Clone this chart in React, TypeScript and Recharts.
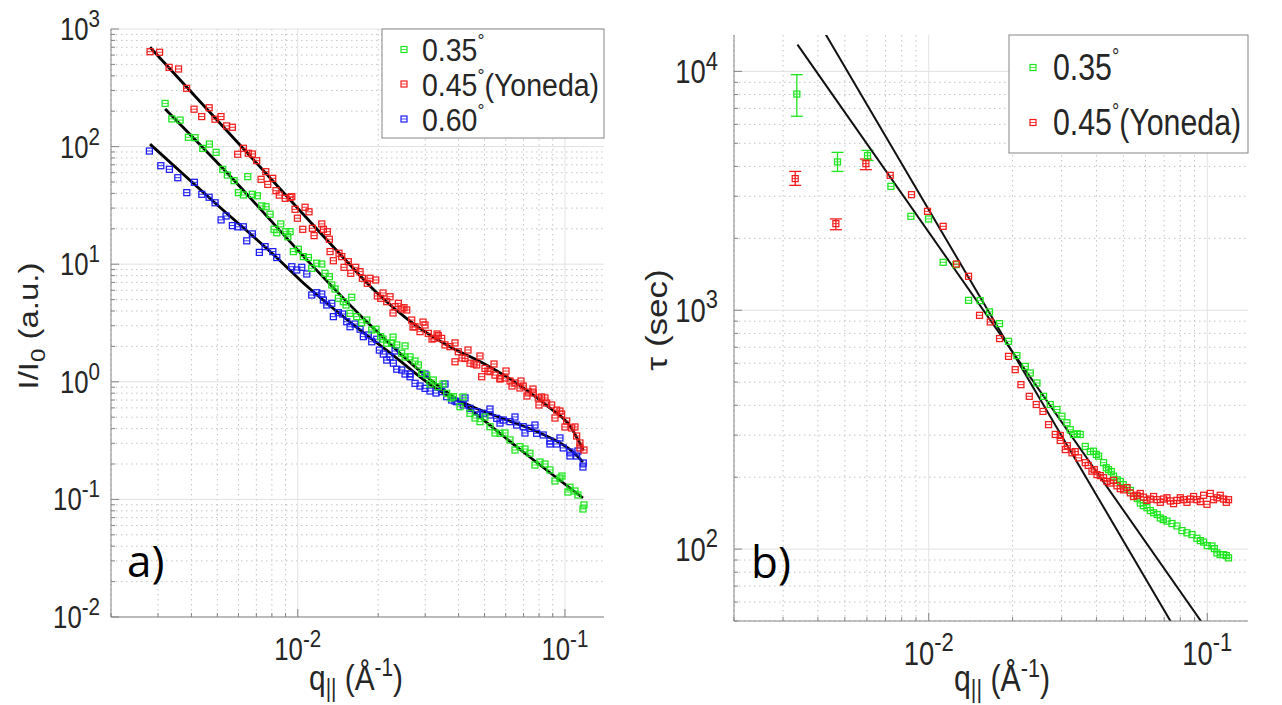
import React from "react";
import { ComposedChart, Scatter, Line, XAxis, YAxis, CartesianGrid, ErrorBar } from "recharts";

const FONT = '"Liberation Sans", Arial, Helvetica, sans-serif';
const SQX = 0.83;
const AXIS_COLOR = "#858585";
const TEXT = "#262626";
const GREEN = "#1ee61e";
const RED = "#f21c1c";
const BLUE = "#1c1cf2";

// ---------- axis ticks ----------
const xTicks = [0.002, 0.003, 0.004, 0.005, 0.006, 0.007, 0.008, 0.009, 0.01, 0.02, 0.03, 0.04, 0.05, 0.06, 0.07, 0.08, 0.09, 0.1];
const xMajor = [0.01, 0.1];
const yTicksA = [0.01, 0.02, 0.03, 0.04, 0.05, 0.06, 0.07, 0.08, 0.09, 0.1, 0.2, 0.3, 0.4, 0.5, 0.6, 0.7, 0.8, 0.9, 1, 2, 3, 4, 5, 6, 7, 8, 9, 10, 20, 30, 40, 50, 60, 70, 80, 90, 100, 200, 300, 400, 500, 600, 700, 800, 900, 1000];
const yMajorA = [0.01, 0.1, 1, 10, 100, 1000];
const yTicksB = [50, 60, 70, 80, 90, 100, 200, 300, 400, 500, 600, 700, 800, 900, 1000, 2000, 3000, 4000, 5000, 6000, 7000, 8000, 9000, 10000];
const yMajorB = [100, 1000, 10000];

// ---------- panel a: I/I0 vs q ----------
const qRedA = [0.0028, 0.00304, 0.0033, 0.00358, 0.00384, 0.00409, 0.00437, 0.00466, 0.0049, 0.00516, 0.00542, 0.00569, 0.00596, 0.00626, 0.00653, 0.00676, 0.00702, 0.00729, 0.00759, 0.00772, 0.00806, 0.00829, 0.00853, 0.00897, 0.00936, 0.0095, 0.00977, 0.00997, 0.01044, 0.01065, 0.01102, 0.01134, 0.01151, 0.0123, 0.01247, 0.0129, 0.01313, 0.01321, 0.01359, 0.01427, 0.01461, 0.0149, 0.01546, 0.01579, 0.01648, 0.01711, 0.01745, 0.01821, 0.01864, 0.01958, 0.01985, 0.02044, 0.02153, 0.02215, 0.02312, 0.02379, 0.02498, 0.02557, 0.0267, 0.02747, 0.02868, 0.02994, 0.03081, 0.03236, 0.03357, 0.03457, 0.03557, 0.03713, 0.03877, 0.03989, 0.04227, 0.04413, 0.04675, 0.0488, 0.0502, 0.05241, 0.05472, 0.05713, 0.05964, 0.06227, 0.06501, 0.06787, 0.06982, 0.07289, 0.0761, 0.07945, 0.08181, 0.08541, 0.08917, 0.0931, 0.09719, 0.1015, 0.106, 0.1106, 0.1138, 0.1178];
const iRedA = [641, 634, 472, 457, 313, 208, 180, 214, 171, 180, 150, 146, 86.1, 96.8, 87.8, 86.5, 75.9, 52.7, 61.2, 47.7, 53.7, 42.2, 38.7, 36.3, 37.0, 37.5, 29.3, 24.6, 19.8, 30.5, 27.9, 20.2, 17.5, 22.0, 19.8, 18.9, 16.3, 12.8, 10.7, 12.4, 11.6, 9.41, 10.5, 8.37, 9.41, 8.64, 7.59, 6.88, 7.59, 7.34, 5.37, 5.13, 4.8, 5.29, 4.35, 4.65, 4.27, 4.08, 3.35, 2.94, 2.67, 3.04, 2.58, 2.34, 2.47, 2.34, 2.06, 1.99, 1.48, 1.8, 1.58, 1.44, 1.39, 1.105, 1.3, 1.22, 1.14, 1.07, 1.077, 1.016, 0.977, 0.886, 0.921, 0.819, 0.803, 0.729, 0.743, 0.66, 0.635, 0.575, 0.532, 0.464, 0.405, 0.346, 0.302, 0.263];
// second layer of the dense red band
const qRedA2 = [0.02085, 0.02273, 0.02456, 0.027, 0.02944, 0.03181, 0.03321, 0.03877, 0.04118, 0.04336, 0.04566, 0.04808, 0.05152, 0.05425, 0.05713, 0.06017, 0.06335, 0.06847, 0.07208, 0.07592, 0.07993, 0.08418, 0.09175, 0.09578, 0.1, 0.109, 0.1138];
const iRedA2 = [5.69, 3.85, 4.16, 2.92, 3.22, 2.31, 2.55, 2.14, 1.594, 1.864, 1.417, 1.657, 1.235, 1.417, 1.056, 1.235, 0.921, 1.016, 0.757, 0.868, 0.635, 0.729, 0.492, 0.564, 0.413, 0.413, 0.274];

const qGreenA = [0.003188, 0.003378, 0.003628, 0.003898, 0.004127, 0.00441, 0.00467, 0.004947, 0.00524, 0.005452, 0.005776, 0.005995, 0.006258, 0.0065, 0.006761, 0.007058, 0.007334, 0.00761, 0.007877, 0.008152, 0.008346, 0.008637, 0.009018, 0.009176, 0.009359, 0.009627, 0.01005, 0.01049, 0.01096, 0.01128, 0.01178, 0.0123, 0.01265, 0.01313, 0.01341, 0.01379, 0.01419, 0.01481, 0.01516, 0.01569, 0.01592, 0.01662, 0.01735, 0.01812, 0.01892, 0.01963, 0.02044, 0.02153, 0.02248, 0.02347, 0.0245, 0.02521, 0.02631, 0.02827, 0.02911, 0.03039, 0.03216, 0.03357, 0.03609, 0.03821, 0.04048, 0.04413, 0.04808, 0.05241, 0.05713, 0.06227, 0.06787, 0.07396, 0.08064, 0.08787, 0.09578, 0.1044, 0.1118, 0.1178];
const iGreenA = [233, 172, 168, 120, 119, 96.7, 105, 89.4, 64.1, 57.3, 51.3, 40.6, 38.8, 55.5, 39.3, 38.2, 31.3, 30.8, 26.6, 19.8, 18.5, 22.0, 18.9, 17.1, 18.9, 12.8, 13.4, 11.6, 11.4, 9.23, 10.2, 10.04, 8.37, 7.83, 6.66, 6.15, 5.13, 4.8, 4.5, 3.82, 5.23, 3.58, 3.18, 3.35, 2.76, 2.8, 2.42, 2.13, 2.13, 2.06, 1.75, 2.02, 1.63, 1.39, 1.18, 1.14, 1.036, 0.908, 0.798, 0.747, 0.614, 0.54, 0.458, 0.415, 0.365, 0.32, 0.281, 0.247, 0.208, 0.178, 0.152, 0.127, 0.109, 0.0897];
const qGreenA2 = [0.02085, 0.02273, 0.02521, 0.02747, 0.03126, 0.03496, 0.03745, 0.04153, 0.04606, 0.0502, 0.05472, 0.05964, 0.06501, 0.07085, 0.07721, 0.08418, 0.09175, 0.09745, 0.1026, 0.109, 0.1168];
const iGreenA2 = [2.31, 2.4, 1.625, 1.503, 0.958, 0.958, 0.729, 0.743, 0.492, 0.502, 0.367, 0.367, 0.263, 0.268, 0.196, 0.2, 0.1434, 0.158, 0.1156, 0.1179, 0.0829];

const qBlueA = [0.002784, 0.003072, 0.003308, 0.003557, 0.003843, 0.004104, 0.004374, 0.004658, 0.004904, 0.005164, 0.005392, 0.005692, 0.005962, 0.006256, 0.006443, 0.006761, 0.007183, 0.007546, 0.008064, 0.008346, 0.009497, 0.009914, 0.01035, 0.01081, 0.01128, 0.01178, 0.0123, 0.01247, 0.01284, 0.01341, 0.01359, 0.01419, 0.01473, 0.01525, 0.01569, 0.01638, 0.01711, 0.0176, 0.01837, 0.01892, 0.01975, 0.0202, 0.0209, 0.02153, 0.02215, 0.02279, 0.02347, 0.0245, 0.02521, 0.02631, 0.02747, 0.02868, 0.02994, 0.03126, 0.03291, 0.03457, 0.03609, 0.03768, 0.03934, 0.04164, 0.04413, 0.04675, 0.04949, 0.05241, 0.05553, 0.05877, 0.06227, 0.06597, 0.06982, 0.07396, 0.07834, 0.08293, 0.08787, 0.0931, 0.09853, 0.1044, 0.1106, 0.1171];
const iBlueA = [91.7, 68.8, 64.1, 54.4, 40.6, 49.7, 39.3, 37.1, 33.3, 23.8, 25.7, 21.3, 20.8, 20.8, 15.8, 18.1, 12.6, 14.1, 12.8, 11.4, 9.52, 8.93, 9.41, 8.26, 5.47, 5.72, 5.58, 4.96, 4.5, 4.65, 3.58, 3.87, 3.77, 3.24, 2.94, 3.1, 2.8, 2.42, 2.5, 2.19, 2.3, 1.86, 1.72, 1.53, 1.63, 1.44, 1.28, 1.26, 1.165, 1.105, 0.971, 0.921, 0.88, 0.835, 0.803, 0.824, 0.747, 0.7, 0.677, 0.635, 0.595, 0.557, 0.54, 0.522, 0.489, 0.473, 0.458, 0.429, 0.415, 0.402, 0.365, 0.353, 0.314, 0.296, 0.274, 0.253, 0.234, 0.204];
const qBlueA2 = [0.02312, 0.02631, 0.02994, 0.03557, 0.03877, 0.04227, 0.04808, 0.05241, 0.05713, 0.06501, 0.07085, 0.07721, 0.08787, 0.09578, 0.1044, 0.1118, 0.1168];
const iBlueA2 = [1.828, 1.165, 1.165, 0.958, 0.687, 0.729, 0.522, 0.587, 0.446, 0.502, 0.367, 0.429, 0.296, 0.333, 0.234, 0.258, 0.1886];

// fitted curves, panel a
const qFitRedA = [0.0028, 0.006632, 0.0102, 0.01439, 0.01946, 0.02787, 0.03713, 0.04949, 0.06597, 0.08787, 0.1044, 0.1171];
const iFitRedA = [699, 83.2, 28.5, 12.2, 5.92, 2.98, 1.99, 1.436, 0.971, 0.599, 0.421, 0.263];
const qFitGreenA = [0.003188, 0.005579, 0.01065, 0.01816, 0.03046, 0.04298, 0.06612, 0.1168];
const iFitGreenA = [209, 56.2, 11.3, 3.22, 1.099, 0.611, 0.279, 0.1028];
const qFitBlueA = [0.0028, 0.004904, 0.008369, 0.0102, 0.01569, 0.02215, 0.03407, 0.04529, 0.06067, 0.08064, 0.1071, 0.1168];
const iFitBlueA = [105, 33.2, 11.3, 7.34, 3.22, 1.76, 0.835, 0.611, 0.473, 0.367, 0.253, 0.208];

// ---------- panel b: tau vs q ----------
const qGreenB = [0.007316, 0.008631, 0.009984, 0.01127, 0.01252, 0.0139, 0.0153, 0.01653, 0.01796, 0.01934, 0.02073, 0.02221, 0.02315, 0.02446, 0.02584, 0.02731, 0.02886, 0.03008, 0.03135, 0.03311, 0.03499, 0.03647, 0.03906, 0.04072, 0.04243, 0.04422, 0.04609, 0.04871, 0.05148, 0.05437, 0.05746, 0.06074, 0.06416, 0.06781, 0.07167, 0.07783, 0.08454, 0.09183, 0.09698, 0.1039, 0.1083, 0.1144, 0.1192];
const tGreenB = [3301, 2473, 2411, 1587, 1552, 1100, 1097, 984, 879, 741, 646, 582, 546, 496, 436, 403, 384, 360, 338, 302, 302, 269, 257, 245, 230, 215, 202, 192, 180, 166, 156, 149, 142, 135, 131, 125, 117, 111, 107, 103, 96.4, 94.8, 91.9];
const qGreenB2 = [0.03222, 0.03413, 0.03802, 0.03995, 0.04338, 0.04522, 0.04751, 0.04993, 0.05292, 0.05607, 0.05892, 0.06243, 0.06612, 0.0695, 0.07468, 0.08112, 0.08812, 0.09439, 0.1, 0.106, 0.1113, 0.117];
const tGreenB2 = [316, 304, 256, 249, 219, 211, 195, 186, 176, 163, 152, 145, 139.5, 132.9, 127.9, 119.5, 115, 108.5, 103.4, 100.5, 94.8, 93.9];
const qRedB = [0.007273, 0.008673, 0.0099, 0.01127, 0.01258, 0.0139, 0.01522, 0.01663, 0.01796, 0.01934, 0.02044, 0.02143, 0.02296, 0.02432, 0.02571, 0.02693, 0.02846, 0.02966, 0.03092, 0.03268, 0.03451, 0.03647, 0.03855, 0.04018, 0.04243, 0.04484, 0.04741, 0.05007, 0.05292, 0.05593, 0.05906, 0.06243, 0.06601, 0.06971, 0.07368, 0.07783, 0.08222, 0.0869, 0.09183, 0.09698, 0.09975, 0.1025, 0.1083, 0.1144, 0.1192];
const tRedB = [3671, 3047, 2594, 2245, 1562, 1387, 952, 893, 761, 641, 564, 488, 436, 403, 377, 332, 302, 285, 261, 253, 241, 230, 212, 205, 199, 189, 184, 177, 172, 168, 165, 162, 161, 162, 159, 160, 161, 162, 161, 168, 154, 171, 164, 162, 161];
const qRedB2 = [0.02966, 0.03144, 0.03357, 0.03738, 0.03929, 0.04128, 0.04364, 0.04609, 0.04871, 0.05148, 0.05437, 0.05746, 0.06074, 0.06416, 0.06781, 0.07167, 0.07568, 0.08002, 0.08454, 0.08929, 0.09439, 0.1053, 0.1113, 0.117];
const tRedB2 = [299, 271, 256, 224, 215, 203, 192, 194, 179, 181, 166, 171, 160, 166, 157, 164, 155, 164, 157, 166, 158, 161, 168, 157];

// first points carry visible error bars: [below, above]
const qGreenBErr = [0.003362, 0.004705, 0.006031];
const tGreenBErr = [8037, 4178, 4437];
const eGreenB = [[1550, 1650], [366, 403], [200, 230]];
const qRedBErr = [0.003317, 0.004642, 0.00595];
const tRedBErr = [3557, 2304, 4108];
const eRedB = [[224, 255], [131, 107], [231, 187]];

// power-law fits, panel b
const qFitB1 = [0.00338, 0.096];
const tFitB1 = [12940, 49];
const qFitB2 = [0.00405, 0.0745];
const tFitB2 = [15850, 49];

const zip = (qs: number[], vs: number[]) => qs.map((q, i) => ({ q, v: vs[i] }));
const zipErr = (qs: number[], vs: number[], es: number[][]) => qs.map((q, i) => ({ q, v: vs[i], err: es[i] }));

const redA = zip(qRedA, iRedA).concat(zip(qRedA2, iRedA2));
const greenA = zip(qGreenA, iGreenA).concat(zip(qGreenA2, iGreenA2));
const blueA = zip(qBlueA, iBlueA).concat(zip(qBlueA2, iBlueA2));
const fitRedA = zip(qFitRedA, iFitRedA);
const fitGreenA = zip(qFitGreenA, iFitGreenA);
const fitBlueA = zip(qFitBlueA, iFitBlueA);
const greenB = zip(qGreenB, tGreenB).concat(zip(qGreenB2, tGreenB2));
const redB = zip(qRedB, tRedB).concat(zip(qRedB2, tRedB2));
const greenBErr = zipErr(qGreenBErr, tGreenBErr, eGreenB);
const redBErr = zipErr(qRedBErr, tRedBErr, eRedB);
const fitB1 = zip(qFitB1, tFitB1);
const fitB2 = zip(qFitB2, tFitB2);

const xMinor = xTicks.filter((t) => xMajor.indexOf(t) < 0);
const yMinorA = yTicksA.filter((t) => yMajorA.indexOf(t) < 0);
const yMinorB = yTicksB.filter((t) => yMajorB.indexOf(t) < 0);

function Square(props: any) {
  const { cx, cy, color, s } = props;
  if (cx == null || cy == null || isNaN(cx) || isNaN(cy)) return null;
  const h = s / 2;
  return (
    <g>
      <rect x={cx - h} y={cy - h} width={s} height={s} fill="none" stroke={color} strokeWidth={1.25} />
      <line x1={cx - h} x2={cx + h} y1={cy} y2={cy} stroke={color} strokeWidth={0.9} />
    </g>
  );
}

type Side = "left" | "right" | "top" | "bottom";
type LabelOpt = { size: number; gap: number; base: number };

function makeTick(side: Side, majors: number[], opt: LabelOpt) {
  return function Tick(props: any) {
    const { x, y, payload } = props;
    const v = payload.value as number;
    const major = majors.indexOf(v) >= 0;
    const len = major ? 8 : 4;
    let x2 = x;
    let y2 = y;
    if (side === "bottom") y2 = y - len;
    if (side === "top") y2 = y + len;
    if (side === "left") x2 = x + len;
    if (side === "right") x2 = x - len;
    const exp = Math.round(Math.log10(v));
    const sup = opt.size * 0.8;
    let label = null;
    if (major && (side === "left" || side === "bottom")) {
      const tx = side === "left" ? x - opt.gap : x;
      const ty = y + opt.base;
      label = (
        <g transform={`translate(${tx},${ty}) scale(${SQX},1)`}>
          <text x={0} y={0} textAnchor={side === "left" ? "end" : "middle"} fontFamily={FONT} fontSize={opt.size} fill={TEXT}>
            10<tspan fontSize={sup} dy={-opt.size * 0.42}>{exp}</tspan>
          </text>
        </g>
      );
    }
    return (
      <g>
        <line x1={x} y1={y} x2={x2} y2={y2} stroke={AXIS_COLOR} strokeWidth={1} />
        {label}
      </g>
    );
  };
}

const axisCommon = {
  type: "number" as const,
  scale: "log" as const,
  allowDataOverflow: true,
  interval: 0 as const,
  tickSize: 0,
  tickMargin: 0,
  tickLine: false,
  axisLine: { stroke: AXIS_COLOR, strokeWidth: 1 },
};

function PanelA() {
  const lab: LabelOpt = { size: 31, gap: 11, base: 11 };
  const labX: LabelOpt = { size: 31, gap: 0, base: 43 };
  return (
    <ComposedChart width={640} height={705} margin={{ top: 29, right: 36, bottom: 0, left: 0 }}>
      <CartesianGrid horizontalValues={yMinorA} verticalValues={xMinor} stroke="#c4c4c4" strokeDasharray="1.5 3.5" />
      <CartesianGrid horizontalValues={yMajorA} verticalValues={xMajor} stroke="#e2e2e2" />
      <XAxis {...axisCommon} xAxisId={0} dataKey="q" domain={[0.002, 0.14]} ticks={xTicks} height={88} tick={makeTick("bottom", xMajor, labX)} />
      <XAxis {...axisCommon} xAxisId="top" orientation="top" dataKey="q" domain={[0.002, 0.14]} ticks={xTicks} height={0} tick={makeTick("top", xMajor, labX)} />
      <YAxis {...axisCommon} yAxisId={0} dataKey="v" domain={[0.01, 1000]} ticks={yTicksA} width={111} tick={makeTick("left", yMajorA, lab)} />
      <YAxis {...axisCommon} yAxisId="right" orientation="right" dataKey="v" domain={[0.01, 1000]} ticks={yTicksA} width={0} tick={makeTick("right", yMajorA, lab)} />
      <Scatter data={blueA} dataKey="v" isAnimationActive={false} shape={(p: any) => <Square {...p} color={BLUE} s={6} />} />
      <Scatter data={greenA} dataKey="v" isAnimationActive={false} shape={(p: any) => <Square {...p} color={GREEN} s={6} />} />
      <Scatter data={redA} dataKey="v" isAnimationActive={false} shape={(p: any) => <Square {...p} color={RED} s={6} />} />
      <Line data={fitGreenA} dataKey="v" type="monotone" stroke="#000" strokeWidth={2.8} dot={false} activeDot={false} isAnimationActive={false} />
      <Line data={fitBlueA} dataKey="v" type="monotone" stroke="#000" strokeWidth={2.8} dot={false} activeDot={false} isAnimationActive={false} />
      <Line data={fitRedA} dataKey="v" type="monotone" stroke="#000" strokeWidth={2.8} dot={false} activeDot={false} isAnimationActive={false} />
    </ComposedChart>
  );
}

function PanelB() {
  const lab: LabelOpt = { size: 33, gap: 16, base: 12 };
  const labX: LabelOpt = { size: 33, gap: 0, base: 44 };
  return (
    <ComposedChart width={642} height={705} margin={{ top: 35, right: 34, bottom: 0, left: 0 }}>
      <CartesianGrid horizontalValues={yMinorB} verticalValues={xMinor} stroke="#c4c4c4" strokeDasharray="1.5 3.5" />
      <CartesianGrid horizontalValues={yMajorB} verticalValues={xMajor} stroke="#e2e2e2" />
      <XAxis {...axisCommon} xAxisId={0} dataKey="q" domain={[0.002, 0.14]} ticks={xTicks} height={84} tick={makeTick("bottom", xMajor, labX)} />
      <XAxis {...axisCommon} xAxisId="top" orientation="top" dataKey="q" domain={[0.002, 0.14]} ticks={xTicks} height={0} tick={makeTick("top", xMajor, labX)} />
      <YAxis {...axisCommon} yAxisId={0} dataKey="v" domain={[50, 14200]} ticks={yTicksB} width={94} tick={makeTick("left", yMajorB, lab)} />
      <YAxis {...axisCommon} yAxisId="right" orientation="right" dataKey="v" domain={[50, 14200]} ticks={yTicksB} width={0} tick={makeTick("right", yMajorB, lab)} />
      <Scatter data={greenB} dataKey="v" isAnimationActive={false} shape={(p: any) => <Square {...p} color={GREEN} s={6} />} />
      <Scatter data={redB} dataKey="v" isAnimationActive={false} shape={(p: any) => <Square {...p} color={RED} s={6} />} />
      <Scatter data={greenBErr} dataKey="v" isAnimationActive={false} shape={(p: any) => <Square {...p} color={GREEN} s={6} />}>
        <ErrorBar dataKey="err" direction="y" stroke={GREEN} strokeWidth={1.3} width={6} />
      </Scatter>
      <Scatter data={redBErr} dataKey="v" isAnimationActive={false} shape={(p: any) => <Square {...p} color={RED} s={6} />}>
        <ErrorBar dataKey="err" direction="y" stroke={RED} strokeWidth={1.3} width={6} />
      </Scatter>
      <Line data={fitB1} dataKey="v" type="linear" stroke="#111" strokeWidth={2} dot={false} activeDot={false} isAnimationActive={false} />
      <Line data={fitB2} dataKey="v" type="linear" stroke="#111" strokeWidth={2} dot={false} activeDot={false} isAnimationActive={false} />
    </ComposedChart>
  );
}

function Mark({ x, y, color }: { x: number; y: number; color: string }) {
  return (
    <g>
      <rect x={x - 3} y={y - 3} width={6} height={6} fill="none" stroke={color} strokeWidth={1.2} />
      <line x1={x - 3} x2={x + 3} y1={y} y2={y} stroke={color} strokeWidth={0.8} />
    </g>
  );
}

function Overlay() {
  // legend a rows sit only 35px apart, so a smaller font stretched wider keeps the reference width
  const fs = 31;
  const sqLeg = 0.92;
  return (
    <svg width={1282} height={705} style={{ position: "absolute", left: 0, top: 0, pointerEvents: "none" }} fontFamily={FONT}>
      {/* panel a legend */}
      <rect x={382} y={29} width={222} height={109} fill="#fff" stroke={AXIS_COLOR} strokeWidth={1} />
      <Mark x={404} y={49.5} color={GREEN} />
      <Mark x={404} y={84} color={RED} />
      <Mark x={404} y={119} color={BLUE} />
      <g transform={`translate(422,61) scale(${sqLeg},1)`}>
        <text fontSize={fs} fill={TEXT}>0.35<tspan fontSize={19} dy={-14}>°</tspan></text>
      </g>
      <g transform={`translate(422,95.5) scale(${sqLeg},1)`}>
        <text fontSize={fs} fill={TEXT}>0.45<tspan fontSize={19} dy={-14}>°</tspan><tspan dy={14}>(Yoneda)</tspan></text>
      </g>
      <g transform={`translate(422,130.5) scale(${sqLeg},1)`}>
        <text fontSize={fs} fill={TEXT}>0.60<tspan fontSize={19} dy={-14}>°</tspan></text>
      </g>

      {/* panel b legend */}
      <rect x={1009} y={35} width={239} height={118} fill="#fff" stroke={AXIS_COLOR} strokeWidth={1} />
      <Mark x={1033} y={67.5} color={GREEN} />
      <Mark x={1033} y={122.5} color={RED} />
      <g transform={`translate(1053,80) scale(${SQX},1)`}>
        <text fontSize={36.5} fill={TEXT}>0.35<tspan fontSize={22} dy={-16}>°</tspan></text>
      </g>
      <g transform={`translate(1053,135) scale(${SQX},1)`}>
        <text fontSize={36.5} fill={TEXT}>0.45<tspan fontSize={22} dy={-16}>°</tspan><tspan dy={16}>(Yoneda)</tspan></text>
      </g>

      {/* axis titles */}
      <g transform={`translate(38,326) scale(${SQX},1) rotate(-90)`}>
        <text textAnchor="middle" fontSize={33} fill={TEXT}>I/I<tspan fontSize={24} dy={8}>0</tspan><tspan dy={-8}> (a.u.)</tspan></text>
      </g>
      <g transform={`translate(356,690) scale(${SQX},1)`}>
        <text textAnchor="middle" fontSize={36} fill={TEXT}>q<tspan fontSize={25} dy={7}>||</tspan><tspan dy={-7}> (Å</tspan><tspan fontSize={25} dy={-14}>-1</tspan><tspan dy={14}>)</tspan></text>
      </g>
      <g transform={`translate(667,320) scale(${SQX},1) rotate(-90)`}>
        <text textAnchor="middle" fontSize={35} fill={TEXT}>τ (sec)</text>
      </g>
      <g transform={`translate(1002,691) scale(${SQX},1)`}>
        <text textAnchor="middle" fontSize={36.5} fill={TEXT}>q<tspan fontSize={26} dy={7}>||</tspan><tspan dy={-7}> (Å</tspan><tspan fontSize={26} dy={-14}>-1</tspan><tspan dy={14}>)</tspan></text>
      </g>

      {/* panel tags */}
      <text x={127} y={577} fontFamily='"Open Sans", "Noto Sans", sans-serif' fontSize={44} fill="#000">a)</text>
      <text x={751} y={578} fontFamily='"Open Sans", "Noto Sans", sans-serif' fontSize={44} fill="#000">b)</text>
    </svg>
  );
}

export default function App() {
  return (
    <div style={{ position: "absolute", left: 0, top: 0, width: 1282, height: 705, background: "#fff", fontFamily: FONT }}>
      <div style={{ position: "absolute", left: 0, top: 0 }}>
        <PanelA />
      </div>
      <div style={{ position: "absolute", left: 640, top: 0 }}>
        <PanelB />
      </div>
      <Overlay />
    </div>
  );
}
